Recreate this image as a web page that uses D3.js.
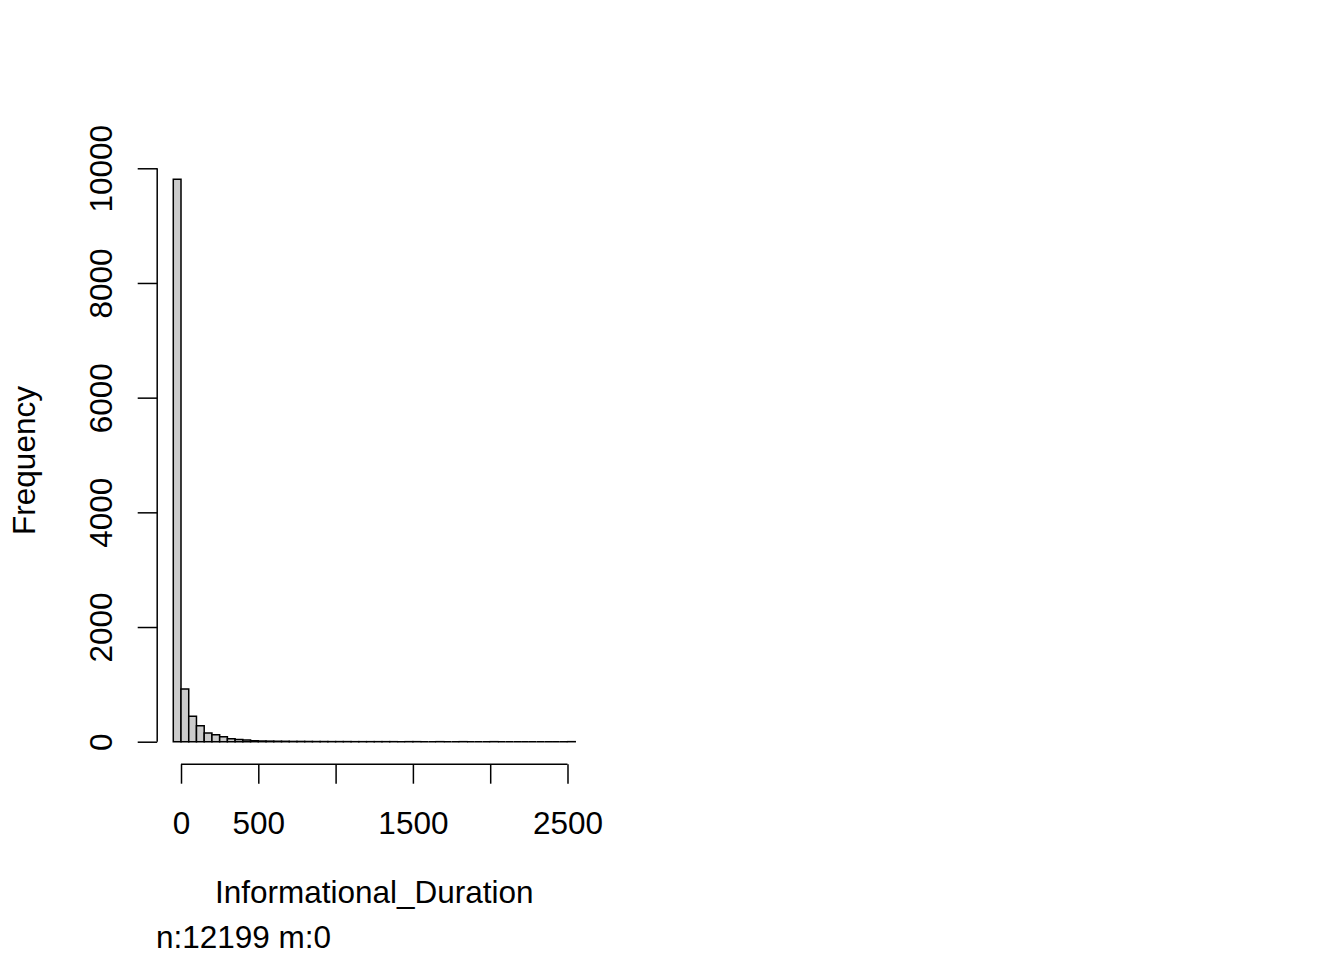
<!DOCTYPE html>
<html>
<head>
<meta charset="utf-8">
<script src="https://cdn.jsdelivr.net/npm/d3@7"></script>
<style>
  body { margin: 0; background: #fff; }
  svg { display: block; }
  text { font-family: "Liberation Sans", Arial, sans-serif; fill: #000; }
</style>
</head>
<body>
<svg></svg>
<script>
const width = 1344;
const height = 960;

// histogram bins, 50 wide, starting at -50
const binStart = -50;
const binWidth = 50;
const counts = [9808, 921, 442, 277, 153, 122, 87, 53, 40, 29,
                17, 12, 10, 8, 7, 5, 5, 4, 3, 3,
                2, 2, 2, 1, 1, 1, 1, 1, 1, 0,
                1, 1, 0, 0, 1, 0, 0, 1, 0, 0,
                0, 1, 0, 0, 0, 0, 0, 0, 0, 0,
                0, 1];
const xTicks = [0, 500, 1000, 1500, 2000, 2500];
const xTickLabels = ['0', '500', '', '1500', '', '2500'];
const yTicks = [0, 2000, 4000, 6000, 8000, 10000];
const xLabel = 'Informational_Duration';
const yLabel = 'Frequency';
const subLabel = 'n:12199 m:0';

const bins = counts.map((c, i) => ({
  lo: binStart + i * binWidth,
  hi: binStart + (i + 1) * binWidth,
  count: c
}));

// plot region like R's par("usr") with 4% padding
const plot = {left: 157.2, right: 591.3, top: 156.8, bottom: 764.2};
const xMin = bins[0].lo, xMax = bins[bins.length - 1].hi;
const yMax = d3.max(counts);
const xPad = (xMax - xMin) * 0.04, yPad = yMax * 0.04;

const x = d3.scaleLinear()
            .domain([xMin - xPad, xMax + xPad])
            .range([plot.left, plot.right]);
const y = d3.scaleLinear()
            .domain([-yPad, yMax + yPad])
            .range([plot.bottom, plot.top]);

const svg = d3.select('svg')
              .attr('width', width)
              .attr('height', height);

const fontSize = '31.5px';
const lw = 1.5;

// bars as closed paths so empty bins still show their outline
svg.append('g')
  .selectAll('path')
  .data(bins)
  .enter()
  .append('path')
    .attr('d', d => `M${x(d.lo)},${y(0)}V${y(d.count)}H${x(d.hi)}V${y(0)}Z`)
    .style('fill', '#cbcbcb')
    .style('stroke', '#000')
    .style('stroke-width', lw);

// x axis
const xAxis = svg.append('g')
  .attr('transform', `translate(0,${plot.bottom})`)
  .call(d3.axisBottom(x)
          .tickValues(xTicks)
          .tickFormat((d, i) => xTickLabels[i])
          .tickSize(19.5)
          .tickSizeOuter(0));
xAxis.select('.domain').remove();
xAxis.append('line')
  .attr('x1', x(xTicks[0])).attr('x2', x(xTicks[xTicks.length - 1]))
  .attr('stroke', '#000').attr('stroke-width', lw);
xAxis.selectAll('.tick line').attr('stroke-width', lw);
xAxis.selectAll('.tick text')
  .attr('y', 70)
  .attr('dy', null)
  .style('font-size', fontSize)
  .style('font-family', '"Liberation Sans", Arial, sans-serif');

// y axis
const yAxis = svg.append('g')
  .attr('transform', `translate(${plot.left},0)`)
  .call(d3.axisLeft(y)
          .tickValues(yTicks)
          .tickFormat(d3.format('d'))
          .tickSize(19.5)
          .tickSizeOuter(0));
yAxis.select('.domain').remove();
yAxis.append('line')
  .attr('y1', y(yTicks[0])).attr('y2', y(yTicks[yTicks.length - 1]))
  .attr('stroke', '#000').attr('stroke-width', lw);
yAxis.selectAll('.tick line').attr('stroke-width', lw);
yAxis.selectAll('.tick text')
  .attr('x', null)
  .attr('dy', null)
  .attr('transform', 'translate(-45,0) rotate(-90)')
  .attr('text-anchor', 'middle')
  .style('font-size', fontSize)
  .style('font-family', '"Liberation Sans", Arial, sans-serif');

// labels
svg.append('text')
  .attr('x', (plot.left + plot.right) / 2)
  .attr('y', 903)
  .attr('text-anchor', 'middle')
  .style('font-size', fontSize)
  .text(xLabel);

svg.append('text')
  .attr('transform', `translate(35,${(plot.top + plot.bottom) / 2}) rotate(-90)`)
  .attr('text-anchor', 'middle')
  .style('font-size', fontSize)
  .text(yLabel);

svg.append('text')
  .attr('x', 156)
  .attr('y', 948)
  .style('font-size', fontSize)
  .text(subLabel);
</script>
</body>
</html>
